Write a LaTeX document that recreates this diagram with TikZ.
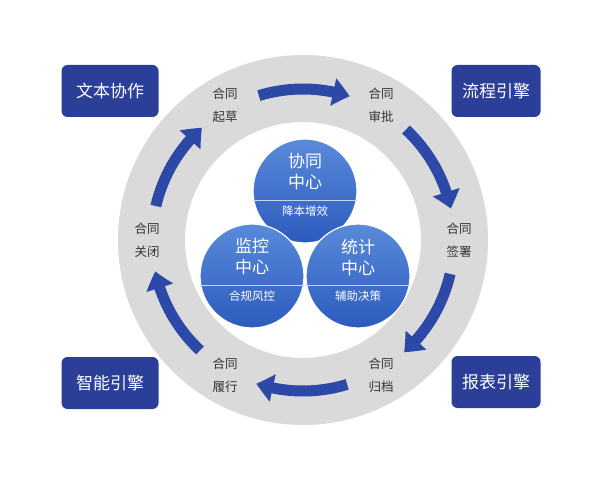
\documentclass[tikz,border=0pt]{standalone}
\usepackage{fontspec}
\setmainfont{Noto Sans CJK SC}
\usetikzlibrary{arrows.meta, bending, calc}
\definecolor{EngBlue}{HTML}{2B3E98}
\definecolor{ArrBlue}{HTML}{2C49A8}
\definecolor{RingGray}{HTML}{DADADA}
\definecolor{BallTop}{HTML}{5A8ADA}
\definecolor{BallBot}{HTML}{2C5BBE}
\definecolor{Black80}{HTML}{333333}

\begin{document}
\begin{tikzpicture}[x=1pt, y=1pt,
          engbox/.style={rectangle, rounded corners=6pt, fill=EngBlue, text=white,
                        minimum width=97pt, minimum height=52pt,
                        font=\fontsize{17}{20}\selectfont},
          lbl/.style={align=center, text=Black80, font=\fontsize{12.5}{23}\selectfont},
          ball/.style={circle, draw=white, line width=1.2pt, top color=BallTop,
                        bottom color=BallBot, minimum size=104pt, inner sep=0pt},
          balltxt/.style={align=center, text=white, font=\fontsize{17}{21}\selectfont},
          ballsub/.style={text=white, font=\fontsize{11.5}{13}\selectfont},
          divline/.style={draw=white!65!BallTop, line width=0.8pt},
          ringarr/.style={-{Triangle[length=17pt, width=27pt, bend]}, line width=11pt, color=ArrBlue}
        ]
          \useasboundingbox[fill=white] (0,0) rectangle (600,480);
          \coordinate (c) at (303,240);
          % grey ring
          \draw[RingGray, line width=67pt] (c) circle[radius=151.5];
          % arrows round the ring
          \foreach \a [evaluate=\a as \s using \a+17, evaluate=\a as \e using \a-18]
              in {90,30,-30,-90,-150,150}
            \draw[ringarr] ([shift={(\s:151)}]c) arc[start angle=\s, end angle=\e, radius=151];
          % stage labels
          \foreach \a/\nm/\txt in {120/qicao/起草, 60/shenpi/审批, 0/qianshu/签署,
              -60/guidang/归档, -120/lvxing/履行, 180/guanbi/关闭}
            \node[lbl] (\nm) at ([shift={(\a:156)}]c) {合同\\\txt};
          % three centres
          \foreach \nm/\pos/\ta/\tb/\sub in {xietong/{(305,289)}/协同/中心/降本增效,
              jiankong/{(252,204)}/监控/中心/合规风控, tongji/{(358,204)}/统计/中心/辅助决策}{
            \node[ball] (\nm) at \pos {};
            \draw[divline] (\nm.190) -- (\nm.350);
            \node[balltxt] (\nm-t) at ([yshift=19]\nm.center) {\ta\\\tb};
            \node[ballsub] (\nm-s) at ([yshift=-20]\nm.center) {\sub};
          }
          % engines
          \node[engbox] (wenben) at (110,389) {文本协作};
          \node[engbox, minimum width=89pt] (liucheng) at (496,389) {流程引擎};
          \node[engbox] (zhineng) at (110,97) {智能引擎};
          \node[engbox, minimum width=89pt] (baobiao) at (496,98) {报表引擎};
        \end{tikzpicture}
\end{document}
